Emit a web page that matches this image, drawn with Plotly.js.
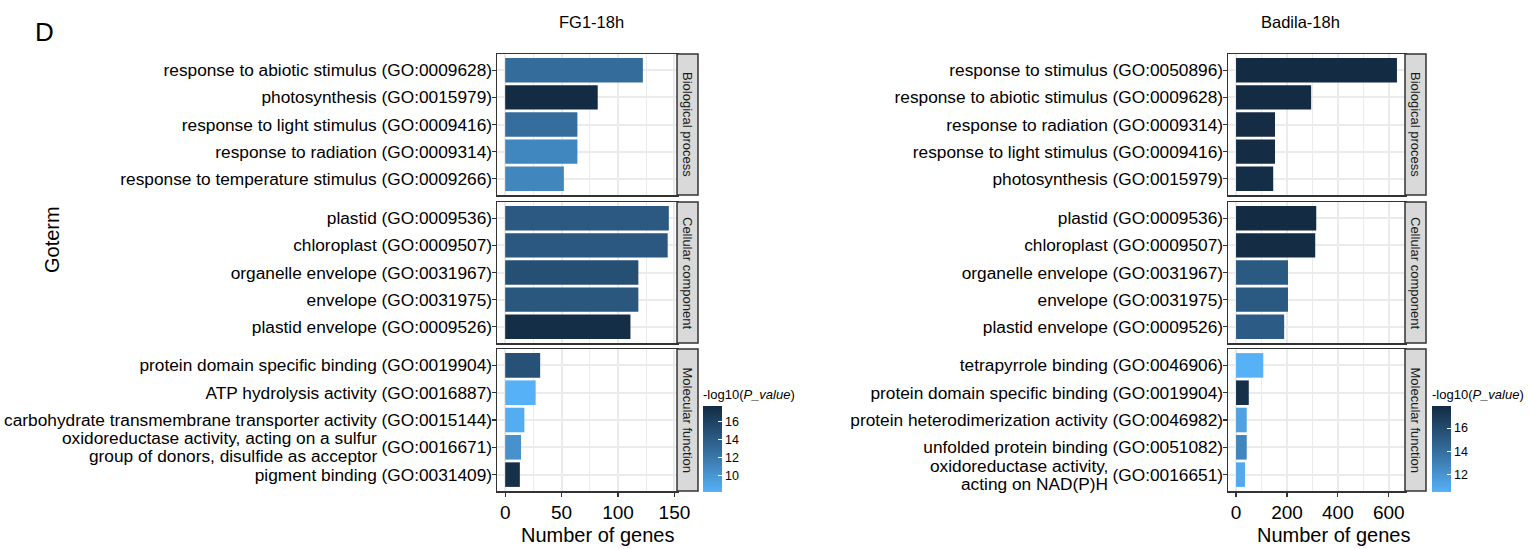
<!DOCTYPE html>
<html>
<head>
<meta charset="utf-8">
<script src="https://cdn.plot.ly/plotly-3.0.1.min.js"></script>
<style>html,body{margin:0;padding:0;background:#fff;}#chart{width:1529px;height:549px;}</style>
</head>
<body>
<div id="chart"></div>
<script>
// ---------------- DATA ----------------
const ontologies = ["Biological process", "Cellular component", "Molecular function"];

// FG1-18h
const fg1Ontology = [0,0,0,0,0, 1,1,1,1,1, 2,2,2,2,2];
const fg1Terms = [
  "response to abiotic stimulus", "photosynthesis", "response to light stimulus",
  "response to radiation", "response to temperature stimulus",
  "plastid", "chloroplast", "organelle envelope", "envelope", "plastid envelope",
  "protein domain specific binding", "ATP hydrolysis activity",
  "carbohydrate transmembrane transporter activity",
  "oxidoreductase activity, acting on a sulfur\ngroup of donors, disulfide as acceptor",
  "pigment binding"
];
const fg1Ids = [
  "GO:0009628", "GO:0015979", "GO:0009416", "GO:0009314", "GO:0009266",
  "GO:0009536", "GO:0009507", "GO:0031967", "GO:0031975", "GO:0009526",
  "GO:0019904", "GO:0016887", "GO:0015144", "GO:0016671", "GO:0031409"
];
const fg1Genes = [122, 82, 64, 64, 52, 145, 144, 118, 118, 111, 31, 27, 17, 14, 13];
const fg1LogP  = [12.8, 17.7, 12.7, 11.0, 11.1, 14.2, 14.3, 15.0, 14.4, 17.5, 14.8, 8.2, 8.5, 10.3, 17.3];

// Badila-18h
const badOntology = [0,0,0,0,0, 1,1,1,1,1, 2,2,2,2,2];
const badTerms = [
  "response to stimulus", "response to abiotic stimulus", "response to radiation",
  "response to light stimulus", "photosynthesis",
  "plastid", "chloroplast", "organelle envelope", "envelope", "plastid envelope",
  "tetrapyrrole binding", "protein domain specific binding",
  "protein heterodimerization activity", "unfolded protein binding",
  "oxidoreductase activity,\nacting on NAD(P)H"
];
const badIds = [
  "GO:0050896", "GO:0009628", "GO:0009314", "GO:0009416", "GO:0015979",
  "GO:0009536", "GO:0009507", "GO:0031967", "GO:0031975", "GO:0009526",
  "GO:0046906", "GO:0019904", "GO:0046982", "GO:0051082", "GO:0016651"
];
const badGenes = [632, 295, 153, 153, 146, 315, 311, 204, 204, 189, 107, 50, 42, 42, 35];
const badLogP  = [17.9, 17.9, 17.8, 17.8, 17.7, 17.9, 17.8, 15.2, 15.2, 15.0, 10.5, 17.6, 11.3, 12.8, 10.9];

const panelTitles = ["FG1-18h", "Badila-18h"];

// ---------------- LAYOUT GEOMETRY ----------------
const W = 1529, H = 549;
const FONT = "Liberation Sans, Arial, Helvetica, sans-serif";
const facetY = [[54, 195], [202, 343], [349, 491]];
const panels = [
  {terms: fg1Terms, ids: fg1Ids, genes: fg1Genes, logp: fg1LogP, ont: fg1Ontology,
   x0: 497, x1: 677, strip: 21, dtick: 50, minor: 25, ca: "coloraxis",
   title: panelTitles[0], titleX: 591, xlabX: 597, cbX: 703, multiRight: 379, multiShift: 9},
  {terms: badTerms, ids: badIds, genes: badGenes, logp: badLogP, ont: badOntology,
   x0: 1228, x1: 1405, strip: 21, dtick: 200, minor: 100, ca: "coloraxis2",
   title: panelTitles[1], titleX: 1300, xlabX: 1333, cbX: 1432, multiRight: 1110, multiShift: 9}
];
const px = v => v / W;
const py = v => 1 - v / H;

const traces = [];
const layout = {
  width: W, height: H, autosize: false,
  margin: {l: 0, r: 0, t: 0, b: 0, pad: 0},
  paper_bgcolor: "#ffffff", plot_bgcolor: "#ffffff",
  font: {family: FONT, color: "#000000"},
  showlegend: false,
  shapes: [], annotations: []
};
const colorscale = [[0, "#56B1F7"], [0.5, "#336A98"], [1, "#132B43"]];
const LABEL_SIZE = 17.3;

panels.forEach((p, pi) => {
  const maxG = Math.max(...p.genes);
  const xrange = [-0.05 * maxG, 1.05 * maxG];
  for (let f = 0; f < 3; f++) {
    const k = pi * 3 + f + 1;
    const sfx = k === 1 ? "" : String(k);
    const idx = [];
    p.ont.forEach((o, i) => { if (o === f) idx.push(i); });
    const labels = idx.map(i => p.terms[i].includes("\n") ? "(" + p.ids[i] + ")" : p.terms[i] + " (" + p.ids[i] + ")");
    traces.push({
      type: "bar", orientation: "h",
      x: idx.map(i => p.genes[i]), y: labels,
      xaxis: "x" + sfx, yaxis: "y" + sfx,
      width: 0.9,
      marker: {color: idx.map(i => p.logp[i]), coloraxis: p.ca, line: {width: 0}},
      hovertemplate: "%{y}: %{x}<extra></extra>"
    });
    const bottom = f === 2;
    layout["xaxis" + sfx] = {
      domain: [px(p.x0), px(p.x1)], anchor: "y" + sfx,
      range: xrange, autorange: false, tick0: 0, dtick: p.dtick,
      showgrid: true, gridcolor: "#EBEBEB", gridwidth: 2,
      minor: {dtick: p.minor, tick0: 0, showgrid: true, gridcolor: "#EBEBEB", gridwidth: 1},
      zeroline: false, showline: true, mirror: true, linecolor: "#333333", linewidth: 1.5,
      showticklabels: bottom, ticks: bottom ? "outside" : "", ticklen: 4, tickwidth: 1.2, tickcolor: "#333333",
      tickfont: {size: 19, color: "#000000", family: FONT}, automargin: false
    };
    layout["yaxis" + sfx] = {
      domain: [py(facetY[f][1]), py(facetY[f][0])], anchor: "x" + sfx,
      type: "category", categoryorder: "array", categoryarray: labels,
      range: [labels.length - 0.4, -0.6], autorange: false,
      showgrid: true, gridcolor: "#EBEBEB", gridwidth: 2,
      zeroline: false, showline: true, mirror: true, linecolor: "#333333", linewidth: 1.5,
      ticks: "outside", ticklen: 4, tickwidth: 1.2, tickcolor: "#333333",
      ticklabelstandoff: -4,
      tickfont: {size: LABEL_SIZE, color: "#000000", family: FONT}, automargin: false
    };
    // strip
    layout.shapes.push({
      type: "rect", xref: "paper", yref: "paper",
      x0: px(p.x1), x1: px(p.x1 + p.strip), y0: py(facetY[f][1]), y1: py(facetY[f][0]),
      fillcolor: "#D9D9D9", line: {color: "#333333", width: 1.5}
    });
    layout.annotations.push({
      xref: "paper", yref: "paper", x: px(p.x1 + p.strip / 2), y: py((facetY[f][0] + facetY[f][1]) / 2),
      text: ontologies[f], textangle: 90, showarrow: false,
      xanchor: "center", yanchor: "middle",
      font: {size: 13, color: "#1A1A1A", family: FONT}
    });
    // multi-line descriptions
    idx.forEach((i, j) => {
      if (p.terms[i].includes("\n")) {
        const lines = p.terms[i].split("\n");
        lines.forEach((ln, li) => {
          layout.annotations.push({
            xref: "paper", yref: "y" + sfx,
            x: px(p.multiRight), y: labels[j],
            yshift: (li === 0 ? 1 : -1) * p.multiShift,
            text: ln, showarrow: false, xanchor: "right", yanchor: "middle",
            font: {size: LABEL_SIZE, color: "#000000", family: FONT}
          });
        });
      }
    });
  }
  // panel title
  layout.annotations.push({
    xref: "paper", yref: "paper", x: px(p.titleX), y: py(22), text: p.title,
    showarrow: false, xanchor: "center", yanchor: "middle", font: {size: 16.5, color: "#000000", family: FONT}
  });
  // x axis title
  layout.annotations.push({
    xref: "paper", yref: "paper", x: px(p.xlabX), y: py(535), text: "Number of genes",
    showarrow: false, xanchor: "center", yanchor: "middle", font: {size: 20, color: "#000000", family: FONT}
  });
  // colour axis
  layout[p.ca] = {
    colorscale: colorscale,
    colorbar: {
      x: px(p.cbX), xanchor: "left", xpad: 0, ypad: 0,
      y: py(492), yanchor: "bottom", len: 106, lenmode: "pixels",
      thickness: 19, thicknessmode: "pixels", outlinewidth: 0,
      ticks: "inside", ticklen: 4, tickwidth: 1, tickcolor: "#ffffff",
      tick0: 0, dtick: 2,
      tickfont: {size: 12.5, color: "#000000", family: FONT},
      title: {text: "-log10(<i>P_value</i>)", side: "top", font: {size: 13, color: "#000000", family: FONT}}
    }
  };
});

// figure tag and y-axis title
layout.annotations.push({
  xref: "paper", yref: "paper", x: px(33), y: py(32), text: "D", showarrow: false,
  xanchor: "left", yanchor: "middle", font: {size: 26, color: "#000000", family: FONT}
});
layout.annotations.push({
  xref: "paper", yref: "paper", x: px(52), y: py(240), text: "Goterm", textangle: -90, showarrow: false,
  xanchor: "center", yanchor: "middle", font: {size: 20, color: "#000000", family: FONT}
});

Plotly.newPlot("chart", traces, layout, {displayModeBar: false, staticPlot: true});
</script>
</body>
</html>
